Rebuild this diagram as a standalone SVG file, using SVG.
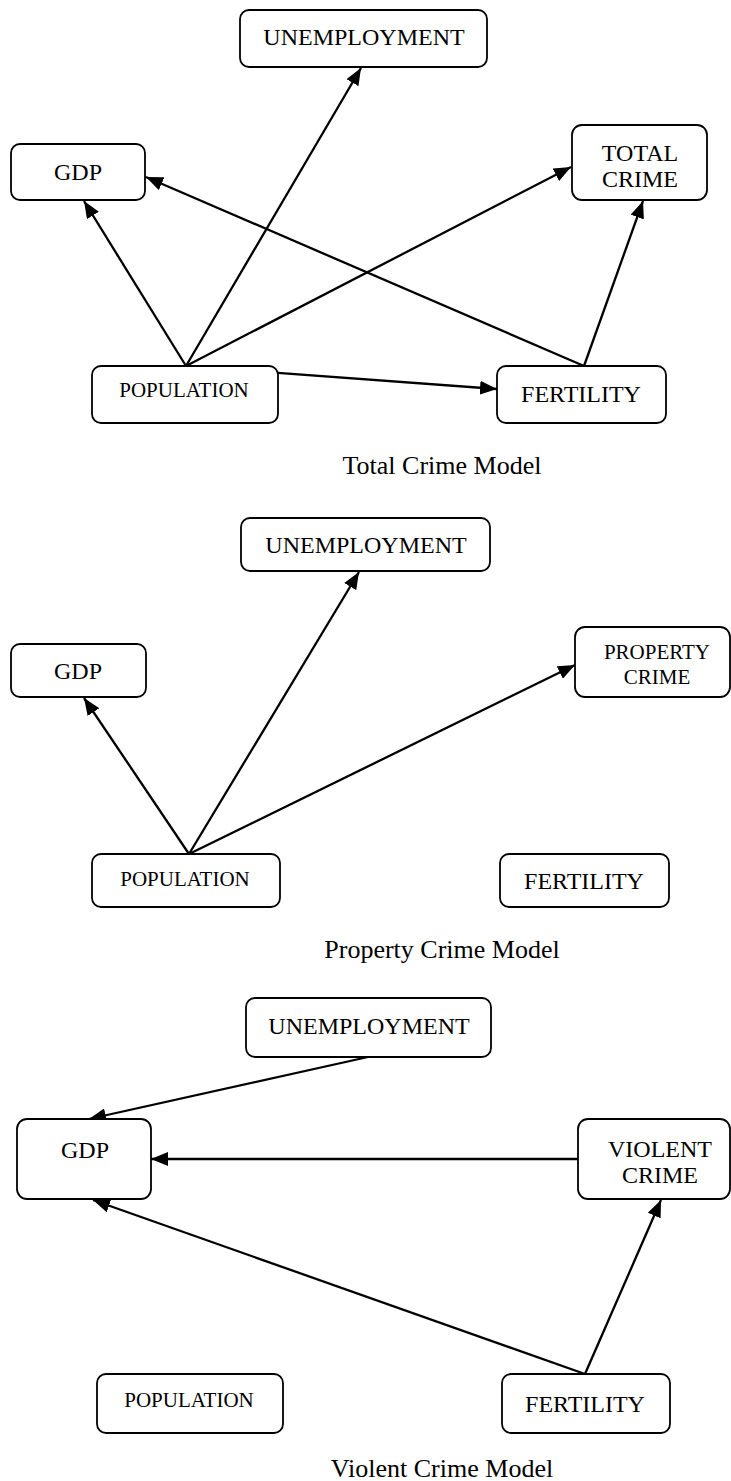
<svg xmlns="http://www.w3.org/2000/svg" width="731" height="1481" viewBox="0 0 731 1481">
<style>
.box{fill:#fff;stroke:#000;stroke-width:1.8}
.t{font-family:"Liberation Serif","Times New Roman",serif;font-size:24px;text-anchor:middle;fill:#000}
.s{font-size:21px}
.cap{font-size:26px}
.edge{stroke:#000;stroke-width:2.3;fill:none;marker-end:url(#ah)}
</style>
<defs>
<marker id="ah" markerUnits="userSpaceOnUse" markerWidth="19" markerHeight="14" refX="17" refY="7" orient="auto">
<path d="M0,0 L17,7 L0,14 Z" fill="#000"/>
</marker>
</defs>
<rect width="731" height="1481" fill="#fff"/>
<g id="connectors">
<line class="edge" x1="186" y1="366" x2="361" y2="68"/>
<line class="edge" x1="186" y1="366" x2="84" y2="201"/>
<line class="edge" x1="186" y1="366" x2="571" y2="167"/>
<line class="edge" x1="186" y1="366" x2="497" y2="389"/>
<line class="edge" x1="584" y1="366" x2="146" y2="177"/>
<line class="edge" x1="584" y1="366" x2="643" y2="201"/>
<line class="edge" x1="189" y1="854" x2="359" y2="572"/>
<line class="edge" x1="189" y1="854" x2="84" y2="698"/>
<line class="edge" x1="189" y1="854" x2="575" y2="665"/>
<line class="edge" x1="368" y1="1057" x2="89" y2="1119"/>
<line class="edge" x1="578" y1="1159" x2="151" y2="1159"/>
<line class="edge" x1="585" y1="1374" x2="93" y2="1200"/>
<line class="edge" x1="585" y1="1374" x2="661" y2="1200"/>
</g>
<g id="total-unemployment"><rect class="box" x="240" y="10" width="247" height="57" rx="9"/><text class="t" x="364" y="45">UNEMPLOYMENT</text></g>
<g id="total-gdp"><rect class="box" x="11" y="144" width="134" height="56" rx="9"/><text class="t" x="78" y="180">GDP</text></g>
<g id="total-crime"><rect class="box" x="572" y="125" width="135" height="75" rx="10"/><text class="t" x="640" y="161">TOTAL</text><text class="t" x="640" y="187">CRIME</text></g>
<g id="total-population"><rect class="box" x="92" y="366" width="186" height="57" rx="9"/><text class="t s" x="184" y="397">POPULATION</text></g>
<g id="total-fertility"><rect class="box" x="497" y="366" width="169" height="57" rx="9"/><text class="t" x="581" y="402">FERTILITY</text></g>
<text class="t cap" x="442" y="474">Total Crime Model</text>
<g id="prop-unemployment"><rect class="box" x="241" y="518" width="249" height="53" rx="9"/><text class="t" x="366" y="553">UNEMPLOYMENT</text></g>
<g id="prop-gdp"><rect class="box" x="11" y="644" width="135" height="53" rx="9"/><text class="t" x="78" y="679">GDP</text></g>
<g id="prop-crime"><rect class="box" x="575" y="627" width="155" height="70" rx="10"/><text class="t s" x="657" y="659">PROPERTY</text><text class="t s" x="657" y="684">CRIME</text></g>
<g id="prop-population"><rect class="box" x="92" y="854" width="188" height="53" rx="9"/><text class="t s" x="185" y="886">POPULATION</text></g>
<g id="prop-fertility"><rect class="box" x="500" y="854" width="169" height="53" rx="9"/><text class="t" x="584" y="889">FERTILITY</text></g>
<text class="t cap" x="442" y="958">Property Crime Model</text>
<g id="viol-unemployment"><rect class="box" x="246" y="998" width="245" height="59" rx="9"/><text class="t" x="369" y="1034">UNEMPLOYMENT</text></g>
<g id="viol-gdp"><rect class="box" x="17" y="1119" width="134" height="80" rx="10"/><text class="t" x="85" y="1158">GDP</text></g>
<g id="viol-crime"><rect class="box" x="578" y="1119" width="152" height="80" rx="10"/><text class="t" x="660" y="1157">VIOLENT</text><text class="t" x="660" y="1183">CRIME</text></g>
<g id="viol-population"><rect class="box" x="97" y="1374" width="186" height="59" rx="9"/><text class="t s" x="189" y="1407">POPULATION</text></g>
<g id="viol-fertility"><rect class="box" x="502" y="1374" width="168" height="59" rx="9"/><text class="t" x="585" y="1412">FERTILITY</text></g>
<text class="t cap" x="442" y="1477">Violent Crime Model</text>
</svg>
